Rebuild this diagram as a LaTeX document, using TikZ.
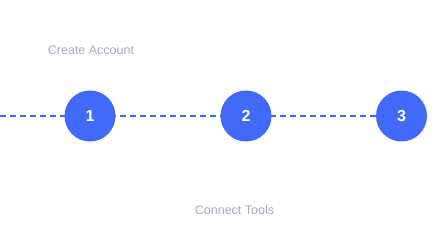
\documentclass[tikz,border=0pt]{standalone}
\usepackage{fontspec}
\setmainfont{Liberation Sans}
\usetikzlibrary{backgrounds}
\definecolor{stepblue}{HTML}{4169FA}
\definecolor{labelgray}{HTML}{A3AAC2}
\begin{document}
\begin{tikzpicture}[x=1pt,y=-1pt,
  stepcircle/.style={circle,fill=stepblue,minimum size=51pt,inner sep=0pt,text=white,font=\fontsize{16}{16}\selectfont\bfseries},
  steplabel/.style={text=labelgray,font=\fontsize{12.5}{12.5}\selectfont,inner sep=0pt},
  link/.style={stepblue,line width=1.2pt,dash pattern=on 6pt off 4pt}]
\useasboundingbox (0,0) rectangle (437,229);
\coordinate (start) at (0,116);
\node[stepcircle] (s1) at (90,116) {1};
\node[stepcircle] (s2) at (246,116) {2};
\node[stepcircle] (s3) at (401.5,116) {3};
\node[steplabel] (l1) at (91,50) {Create Account};
\node[steplabel] (l2) at (234.5,210) {Connect Tools};
\begin{scope}[on background layer]
\fill[white] (0,0) rectangle (437,229);
\draw[link] (start) -- (s3.center);
\end{scope}
\end{tikzpicture}
\end{document}
